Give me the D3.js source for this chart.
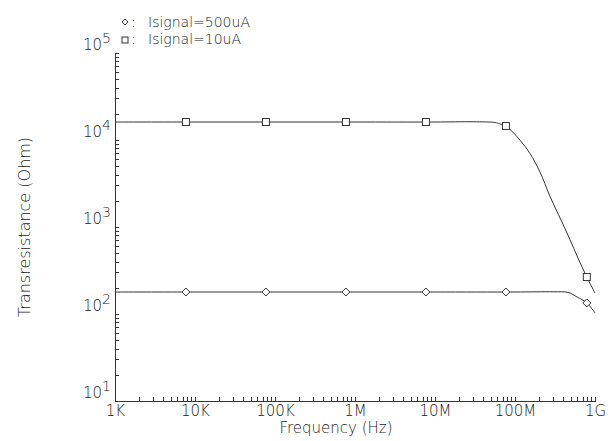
<!DOCTYPE html>
<html><head><meta charset="utf-8">
<script src="https://cdn.jsdelivr.net/npm/d3@7"></script>
<style>
body{margin:0;background:#fff;}
text{font-family:"DejaVu Sans",sans-serif;font-weight:200;fill:#222;}
</style></head><body>
<svg id="c" width="615" height="441"></svg>
<script>
// ---- data ----
const xTickValues = [1e3, 1e4, 1e5, 1e6, 1e7, 1e8, 1e9];
const xTickLabels = ["1K", "10K", "100K", "1M", "10M", "100M", "1G"];
const yTickValues = [1e1, 1e2, 1e3, 1e4, 1e5];
const yTickExponents = ["1", "2", "3", "4", "5"];

const freq10uA = [1e3, 1e4, 1e5, 1e6, 1e7, 3e7, 5.6e7, 6.5e7, 7.7e7, 1.15e8, 1.54e8, 2.05e8, 2.74e8, 4.47e8, 6.5e8, 7.9e8, 1e9];
const val10uA  = [16100, 16100, 16100, 16100, 16100, 16200, 15900, 15300, 14500, 10000, 7000, 4300, 2250, 853, 390, 266, 174];
const freq500uA = [1e3, 1e4, 1e5, 1e6, 1e7, 1e8, 3e8, 4.6e8, 5.96e8, 7.9e8, 1e9];
const val500uA  = [179, 179, 179, 179, 179, 179, 180, 177, 157, 134, 103];

const markerFreq = [7.7e3, 7.7e4, 7.7e5, 7.7e6, 7.7e7, 7.9e8];
const marker10uA = [16100, 16100, 16100, 16100, 14500, 266];
const marker500uA = [179, 179, 179, 179, 179, 134];

const legendLabels = ["Isignal=500uA", "Isignal=10uA"];
const xTitle = "Frequency (Hz)";
const yTitle = "Transresistance (Ohm)";

// ---- drawing ----
const svg = d3.select("#c");
const ink = "#333";
const x = d3.scaleLog().domain([1e3, 1e9]).range([115, 595]);
const y = d3.scaleLog().domain([1e1, 1e5]).range([401, 53]);

function allLogTicks(lo, hi) {
  const t = [];
  for (let d = lo; d < hi; d *= 10) for (let k = 1; k < 10; k++) t.push(d * k);
  t.push(hi);
  return t;
}

// X axis
const xAxis = d3.axisBottom(x).tickValues(allLogTicks(1e3, 1e9))
  .tickSizeInner(-4).tickSizeOuter(0).tickPadding(15)
  .tickFormat(d => { const i = xTickValues.findIndex(v => Math.abs(v - d) / d < 1e-6); return i >= 0 ? xTickLabels[i] : ""; });
const gx = svg.append("g").attr("transform", "translate(0,401)").call(xAxis);
gx.selectAll("path,line").attr("stroke", ink).attr("shape-rendering", "crispEdges");
gx.selectAll("text").attr("dy", "0").attr("font-size", 15).attr("fill", "#222")
  .attr("font-family", "DejaVu Sans").attr("font-weight", 200);

// Y axis
const yAxis = d3.axisLeft(y).tickValues(allLogTicks(1e1, 1e5))
  .tickSizeInner(-4).tickSizeOuter(0).tickFormat("");
const gy = svg.append("g").attr("transform", "translate(115,0)").call(yAxis);
gy.selectAll("path,line").attr("stroke", ink).attr("shape-rendering", "crispEdges");
gy.selectAll("text").remove();
const yl = svg.append("g").selectAll("text").data(yTickValues).join("text")
  .attr("x", 111).attr("y", d => y(d) - 3).attr("text-anchor", "end").attr("font-size", 15);
yl.append("tspan").text("10");
yl.append("tspan").attr("dy", -7).attr("font-size", 14).text((d, i) => yTickExponents[i]);

// titles
svg.append("text").attr("x", 336).attr("y", 433).attr("text-anchor", "middle")
  .attr("font-size", 15).text(xTitle);
svg.append("text").attr("transform", "translate(30,227) rotate(-90)").attr("text-anchor", "middle")
  .attr("font-size", 16).text(yTitle);

// curves
const line = d3.line().x(d => x(d[0])).y(d => y(d[1])).curve(d3.curveCatmullRom.alpha(0.5));
svg.append("path").datum(d3.zip(freq10uA, val10uA)).attr("d", line)
  .attr("fill", "none").attr("stroke", ink).attr("stroke-width", 1);
svg.append("path").datum(d3.zip(freq500uA, val500uA)).attr("d", line)
  .attr("fill", "none").attr("stroke", ink).attr("stroke-width", 1);

// markers
const sq = 7, dm = 4;
svg.append("g").selectAll("rect").data(d3.zip(markerFreq, marker10uA)).join("rect")
  .attr("x", d => x(d[0]) - sq / 2).attr("y", d => y(d[1]) - sq / 2)
  .attr("width", sq).attr("height", sq).attr("fill", "white").attr("stroke", ink);
const diamond = (cx, cy, r) => `M${cx},${cy - r}L${cx + r},${cy}L${cx},${cy + r}L${cx - r},${cy}Z`;
svg.append("g").selectAll("path").data(d3.zip(markerFreq, marker500uA)).join("path")
  .attr("d", d => diamond(x(d[0]), y(d[1]), dm)).attr("fill", "white").attr("stroke", ink);

// legend
const lg = svg.append("g");
lg.append("path").attr("d", diamond(125, 22, 3)).attr("fill", "white").attr("stroke", ink);
lg.append("rect").attr("x", 122).attr("y", 37).attr("width", 6).attr("height", 6)
  .attr("fill", "white").attr("stroke", ink);
lg.selectAll("text.c").data(legendLabels).join("text").attr("class", "c")
  .attr("x", 131).attr("y", (d, i) => 27 + i * 17).attr("font-size", 14).text(":");
lg.selectAll("text.l").data(legendLabels).join("text").attr("class", "l")
  .attr("x", 148).attr("y", (d, i) => 27 + i * 17).attr("font-size", 14).text(d => d);
</script></body></html>
